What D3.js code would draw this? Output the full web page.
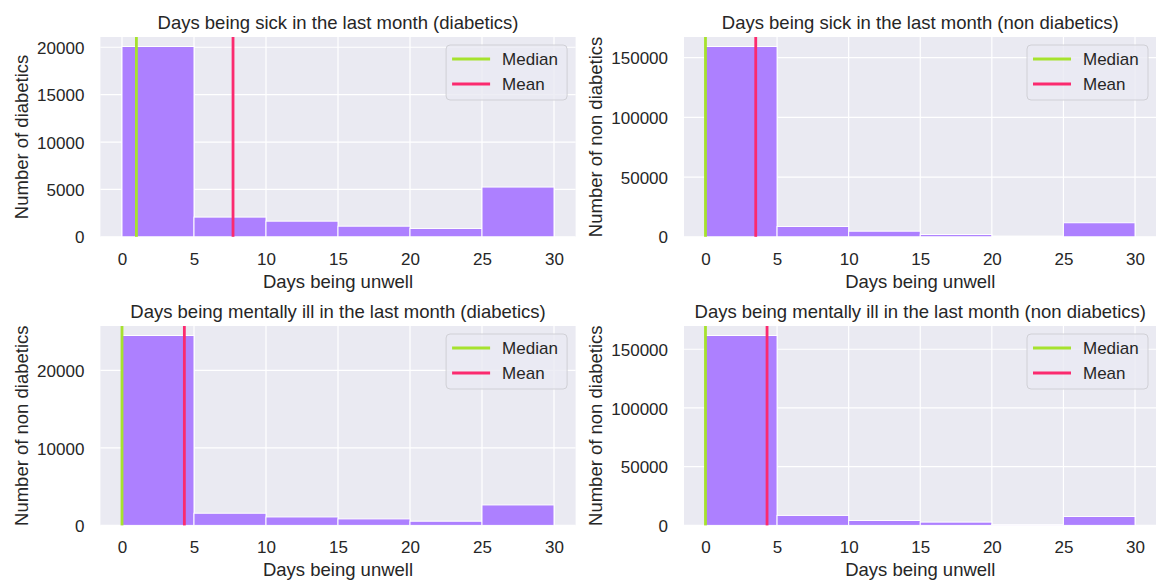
<!DOCTYPE html>
<html>
<head>
<meta charset="utf-8">
<script src="https://cdn.jsdelivr.net/npm/d3@7"></script>
<style>
  html, body { margin:0; padding:0; background:#fff; }
  svg text { font-family: "Liberation Sans", Arial, sans-serif; fill:#262626; }
</style>
</head>
<body>
<div id="chart"></div>
<script>
// histogram bins (days unwell) and counts per bin
const binEdges = [0, 5, 10, 15, 20, 25, 30];
const sickDiab = [20080, 2080, 1650, 1120, 880, 5250];
const sickNonDiab = [159300, 8650, 4700, 1900, 600, 11760];
const mentalDiab = [24500, 1570, 1090, 840, 540, 2640];
const mentalNonDiab = [161700, 8500, 4200, 2800, 700, 7600];

const medians = [1, 0, 0, 0];
const means = [7.71, 3.51, 4.33, 4.30];

const titles = [
  'Days being sick in the last month (diabetics)',
  'Days being sick in the last month (non diabetics)',
  'Days being mentally ill in the last month (diabetics)',
  'Days being mentally ill in the last month (non diabetics)'
];
const yLabels = ['Number of diabetics', 'Number of non diabetics', 'Number of non diabetics', 'Number of non diabetics'];
const xLabel = 'Days being unwell';
const xTicks = [0, 5, 10, 15, 20, 25, 30];
const yTicks = [
  [0, 5000, 10000, 15000, 20000],
  [0, 50000, 100000, 150000],
  [0, 10000, 20000],
  [0, 50000, 100000, 150000]
];
const legendItems = ['Median', 'Mean'];

const series = [sickDiab, sickNonDiab, mentalDiab, mentalNonDiab];

const W = 1156, H = 582;
const BAR = '#ad80ff', MEDIAN = '#a6e22e', MEAN = '#fb2a6f', BG = '#eaeaf2';

// plot area of each panel
const panels = [
  {left:100.4, right:575.6, top:37, bottom:236.8},
  {left:684, right:1156.5, top:37, bottom:236.8},
  {left:100.4, right:575.6, top:326, bottom:525.4},
  {left:684, right:1156.5, top:326, bottom:525.4}
];

const svg = d3.select('#chart').append('svg').attr('width', W).attr('height', H);

panels.forEach((p, i) => {
  const counts = series[i];
  const bins = counts.map((c, k) => ({x0: binEdges[k], x1: binEdges[k+1], n: c}));

  const x = d3.scaleLinear().domain([-1.5, 31.5]).range([p.left, p.right]);
  const y = d3.scaleLinear().domain([0, d3.max(counts) * 1.05]).range([p.bottom, p.top]);

  const g = svg.append('g');
  g.append('rect').attr('x', p.left).attr('y', p.top)
    .attr('width', p.right - p.left).attr('height', p.bottom - p.top).attr('fill', BG);

  // grid
  g.append('g').selectAll('line').data(xTicks).join('line')
    .attr('x1', d => x(d)).attr('x2', d => x(d)).attr('y1', p.top).attr('y2', p.bottom)
    .attr('stroke', '#fff').attr('stroke-width', 1.2);
  g.append('g').selectAll('line').data(yTicks[i]).join('line')
    .attr('x1', p.left).attr('x2', p.right).attr('y1', d => y(d)).attr('y2', d => y(d))
    .attr('stroke', '#fff').attr('stroke-width', 1.2);

  // bars
  g.append('g').selectAll('rect').data(bins).join('rect')
    .attr('x', d => x(d.x0)).attr('width', d => x(d.x1) - x(d.x0))
    .attr('y', d => y(d.n)).attr('height', d => y(0) - y(d.n))
    .attr('fill', BAR).attr('stroke', '#fff').attr('stroke-width', 1);

  // median / mean
  [[medians[i], MEDIAN], [means[i], MEAN]].forEach(([v, c]) => {
    g.append('line').attr('x1', x(v)).attr('x2', x(v)).attr('y1', p.top).attr('y2', p.bottom)
      .attr('stroke', c).attr('stroke-width', 2.8);
  });

  // axes
  const xAxis = d3.axisBottom(x).tickValues(xTicks).tickSize(0).tickPadding(10);
  const xg = g.append('g').attr('transform', `translate(0,${p.bottom})`).call(xAxis);
  xg.select('.domain').remove();
  xg.selectAll('text').attr('font-size', 17).attr('dy', null).attr('y', 28).style('fill', '#262626');

  const yAxis = d3.axisLeft(y).tickValues(yTicks[i]).tickSize(0).tickPadding(16).tickFormat(d3.format('d'));
  const yg = g.append('g').attr('transform', `translate(${p.left},0)`).call(yAxis);
  yg.select('.domain').remove();
  yg.selectAll('text').attr('font-size', 17).attr('dy', '0.36em').style('fill', '#262626');
  const tickW = d3.max(yg.selectAll('text').nodes(), n => n.getBBox().width);

  // labels
  const cx = (p.left + p.right) / 2;
  g.append('text').attr('x', cx).attr('y', p.top - 8).attr('text-anchor', 'middle')
    .attr('font-size', 18.5).text(titles[i]);
  g.append('text').attr('x', cx).attr('y', p.bottom + 51).attr('text-anchor', 'middle')
    .attr('font-size', 18.5).text(xLabel);
  const ly = (p.top + p.bottom) / 2;
  const lx = p.left - 16 - tickW - 9;
  g.append('text').attr('transform', `translate(${lx},${ly}) rotate(-90)`).attr('text-anchor', 'middle')
    .attr('font-size', 18.5).text(yLabels[i]);

  // legend
  const bw = 121, bh = 55;
  const bx = p.right - 8.5 - bw, by = p.top + 8;
  const lg = g.append('g');
  lg.append('rect').attr('x', bx).attr('y', by).attr('width', bw).attr('height', bh)
    .attr('rx', 4).attr('fill', BG).attr('fill-opacity', 0.8).attr('stroke', '#d0d0d6');
  legendItems.forEach((t, k) => {
    const yy = by + 14 + k * 25;
    lg.append('line').attr('x1', bx + 6).attr('x2', bx + 44).attr('y1', yy).attr('y2', yy)
      .attr('stroke', k === 0 ? MEDIAN : MEAN).attr('stroke-width', 3);
    lg.append('text').attr('x', bx + 56).attr('y', yy).attr('dy', '0.35em')
      .attr('font-size', 17).text(t);
  });
});
</script>
</body>
</html>
